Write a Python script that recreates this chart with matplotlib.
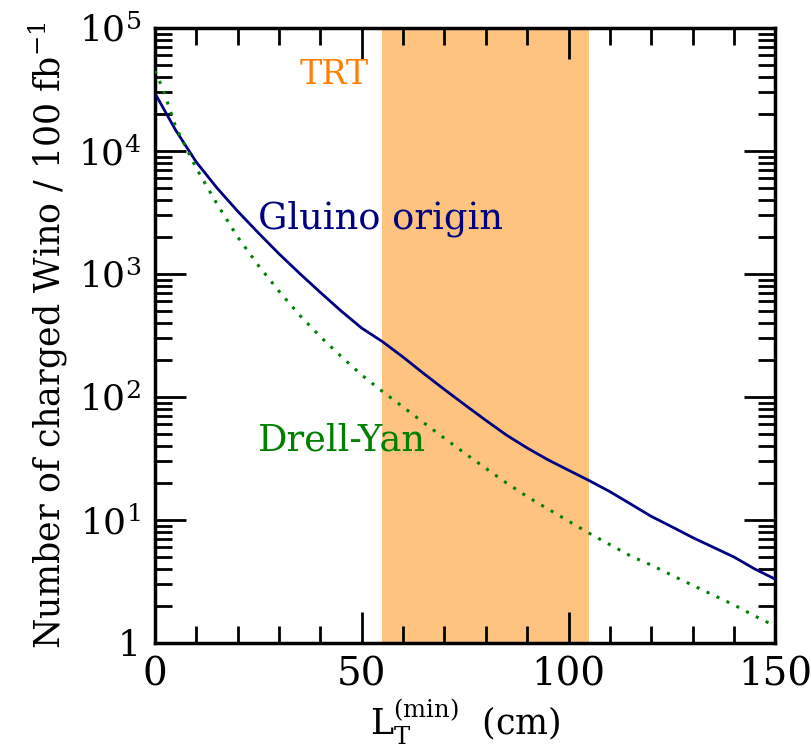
import matplotlib.pyplot as plt
import numpy as np

plt.rcParams['font.family'] = 'DejaVu Serif'
plt.rcParams['mathtext.fontset'] = 'dejavuserif'

# L_T^(min) in cm
x_gluino = [0, 5, 10, 15, 20, 25, 30, 35, 40, 45, 50, 55, 60, 65, 70, 75,
            80, 85, 90, 95, 100, 105, 110, 115, 120, 125, 130, 135, 140, 145, 150]
# gluino origin (solid)
gluino = [29500, 14800, 8130, 5010, 3240, 2160, 1460, 1010, 708, 501,
          363, 282, 211, 155, 115, 86, 64.6, 49, 38.5, 30.9, 25.4, 20.9,
          17, 13.5, 10.7, 8.8, 7.2, 6.0, 5.0, 4.0, 3.3]

x_dy = [0, 2, 5, 10, 15, 20, 25, 30, 35, 40, 45, 50, 55, 60, 65, 70, 75,
        80, 85, 90, 95, 100, 105, 110, 115, 120, 125, 130, 135, 140, 145, 150]
# Drell-Yan (dotted)
drell_yan = [44700, 31600, 15800, 7240, 3720, 2000, 1175, 724, 462, 309,
             214, 151, 111, 83, 61.7, 46.2, 34.7, 26.3, 20, 15.5, 12.3, 9.8,
             7.8, 6.3, 5.1, 4.3, 3.55, 2.95, 2.45, 2.04, 1.66, 1.37]

trt_band = (55, 105)

fig = plt.figure(figsize=(8.11, 7.5), dpi=100)
ax = fig.add_axes([0.191, 0.1427, 0.765, 0.82])

ax.axvspan(trt_band[0], trt_band[1], color='#fdc37f', lw=0, zorder=0)
ax.plot(x_gluino, gluino, color='#000080', lw=2.0, zorder=3)
ax.plot(x_dy, drell_yan, color='#008000', lw=2.2, ls=(0, (1, 2.6)), zorder=3)

ax.set_yscale('log')
ax.set_xlim(0, 150)
ax.set_ylim(1, 1e5)

ax.set_xticks([0, 50, 100, 150])
ax.set_xticklabels(['0', '50', '100', '150'], fontsize=28)
ax.set_xticks(np.arange(0, 151, 10), minor=True)
ax.set_yticks([1, 10, 100, 1e3, 1e4, 1e5])
ax.set_yticklabels(['1', r'$10^1$', r'$10^2$', r'$10^3$', r'$10^4$', r'$10^5$'], fontsize=26)

ax.tick_params(which='both', direction='in', top=True, right=True, width=2)
ax.tick_params(which='major', length=22, pad=10)
ax.tick_params(which='minor', length=12)
for s in ax.spines.values():
    s.set_linewidth(2.5)

ax.set_xlabel(r'L$_\mathrm{T}^\mathrm{(min)}$  (cm)', fontsize=25, labelpad=2)
ax.set_ylabel(r'Number of charged Wino / 100 fb$^{-1}$', fontsize=25, labelpad=6)

ax.text(35, 10**4.62, 'TRT', color='#ff8000', fontsize=24, va='center', ha='left')
ax.text(25, 10**3.45, 'Gluino origin', color='#000080', fontsize=26.5, va='center', ha='left')
ax.text(25, 10**1.65, 'Drell-Yan', color='#008000', fontsize=26.5, va='center', ha='left')

fig.savefig('out.png', dpi=100)
